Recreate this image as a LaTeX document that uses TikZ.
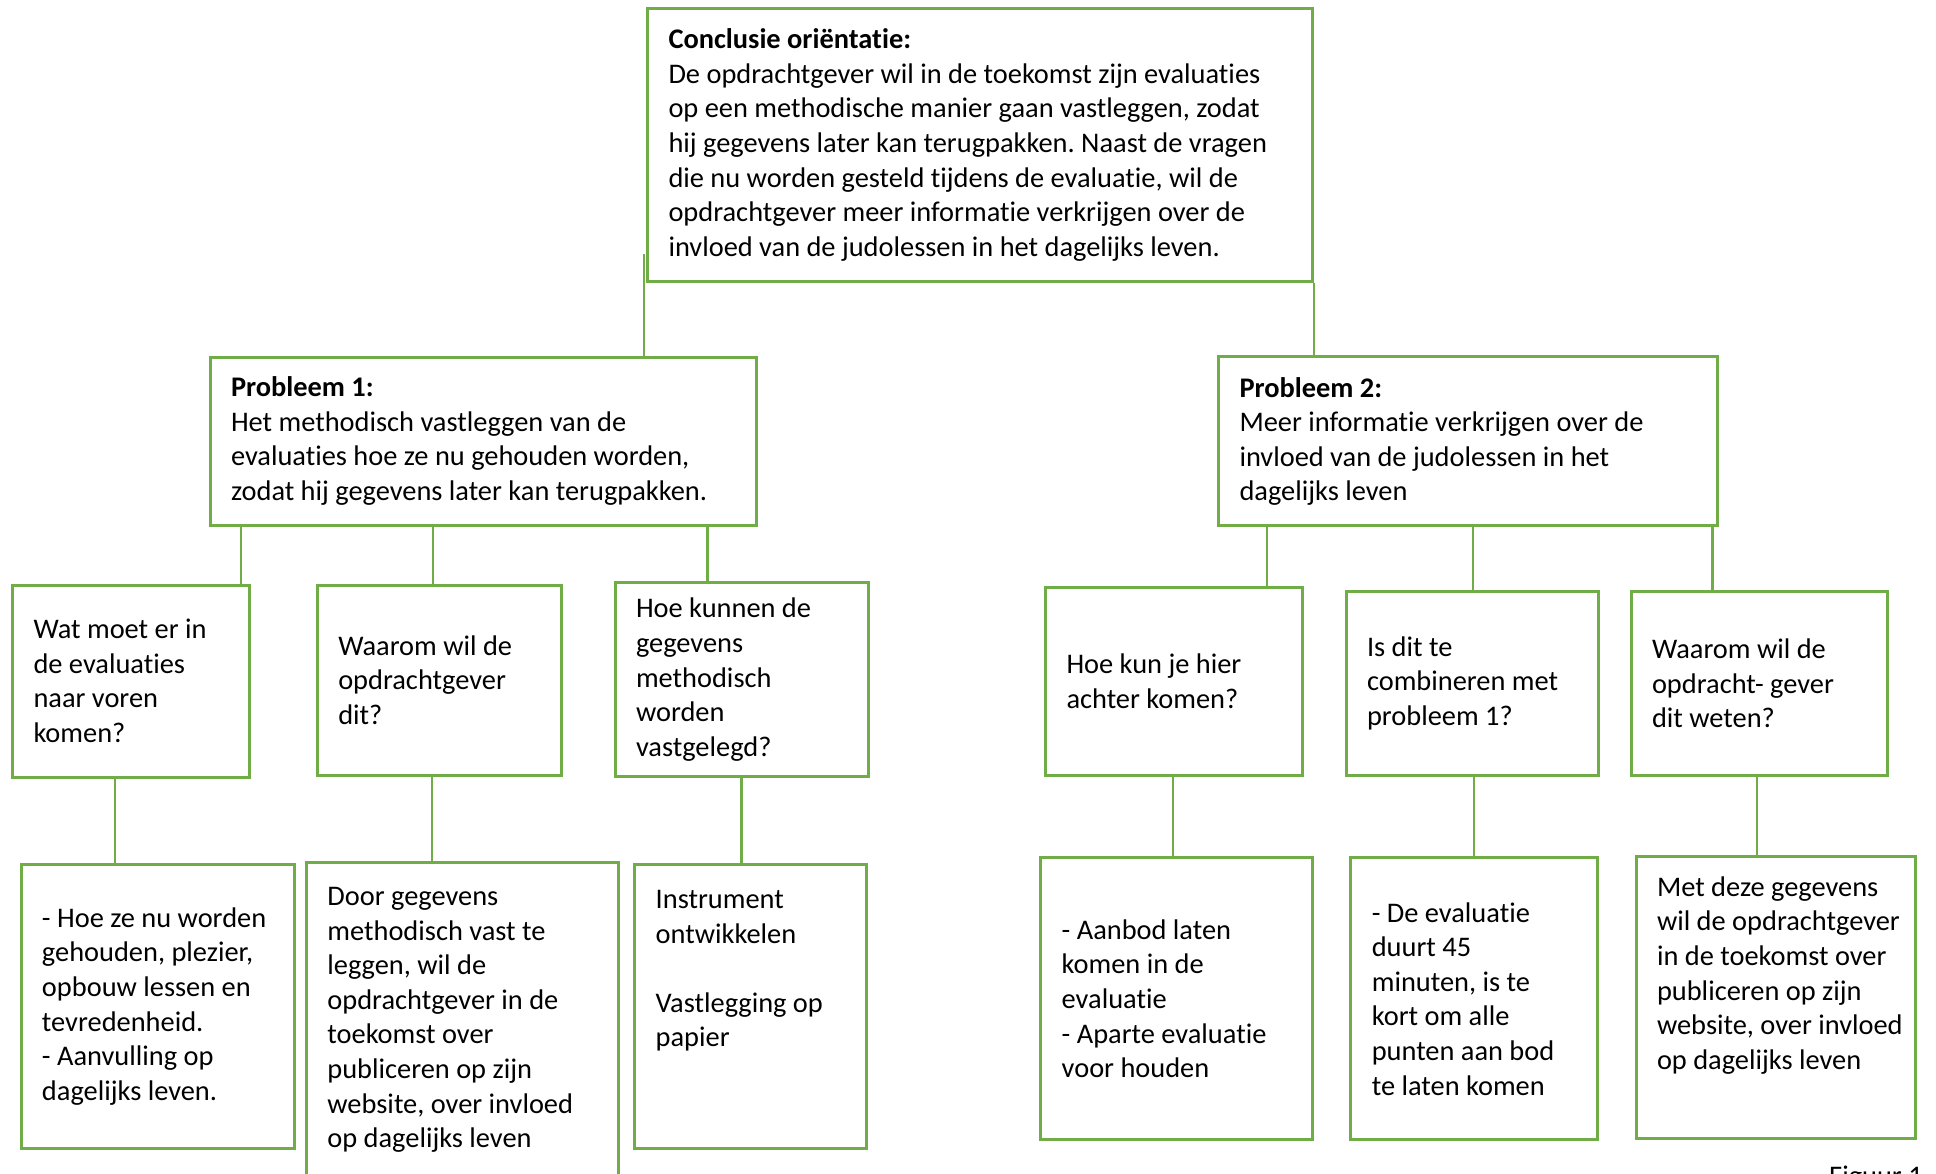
\documentclass[tikz,border=0pt]{standalone}
\usepackage{fontspec}
\setmainfont{Carlito}[Ligatures=NoCommon]
\frenchspacing
\definecolor{boxgreen}{RGB}{112,173,71}
\newcommand{\kfont}{\fontsize{28.4}{34.6}\selectfont}
\tikzset{
  kbox/.style={draw=boxgreen,line width=3pt,inner xsep=4pt,inner ysep=0pt,align=flush left,
    execute at begin node={\leftskip=17pt\relax}},
  klink/.style={draw=boxgreen,line width=2.5pt},
}
\begin{document}
\begin{tikzpicture}[x=1pt,y=-1pt,font=\kfont]
\useasboundingbox (0,0) rectangle (1936,1174);
\node[kbox,minimum width=665pt,minimum height=273pt,text width=657pt] (top) at (980,145)
  {\textbf{Conclusie oriëntatie:}\\De opdrachtgever wil in de toekomst zijn evaluaties\\op een methodische manier gaan vastleggen, zodat\\hij gegevens later kan terugpakken. Naast de vragen\\die nu worden gesteld tijdens de evaluatie, wil de\\opdrachtgever meer informatie verkrijgen over de\\invloed van de judolessen in het dagelijks leven.};
\node[kbox,minimum width=546pt,minimum height=168pt,text width=538pt] (p1) at (483,441)
  {\textbf{Probleem 1:}\\Het methodisch vastleggen van de\\evaluaties hoe ze nu gehouden worden,\\zodat hij gegevens later kan terugpakken.};
\node[kbox,minimum width=499pt,minimum height=169pt,text width=491pt] (p2) at (1468,441.4)
  {\textbf{Probleem 2:}\\Meer informatie verkrijgen over de\\invloed van de judolessen in het\\dagelijks leven};
\foreach \nm/\cx/\cy/\w/\h/\txt in {
  a1/131/681/237/192/{Wat moet er in\\de evaluaties\\naar voren\\komen?},
  a2/439.5/680/244.5/190/{Waarom wil de\\opdrachtgever\\dit?},
  a3/741.5/679.7/253/194/{Hoe kunnen de\\gegevens\\methodisch\\worden\\vastgelegd?},
  b1/1174/681.5/257/188/{Hoe kun je hier\\achter komen?},
  b2/1472/683.4/252/184/{Is dit te\\combineren met\\probleem 1?},
  b3/1759/683.4/256/184/{Waarom wil de\\opdracht- gever\\dit weten?},
  c1/157.5/1006.3/273/284/{- Hoe ze nu worden\\gehouden, plezier,\\opbouw lessen en\\tevredenheid.\\- Aanvulling op\\dagelijks leven.},
  c2/462.4/1020/312/316/{Door gegevens\\methodisch vast te\\leggen, wil de\\opdrachtgever in de\\toekomst over\\publiceren op zijn\\website, over invloed\\op dagelijks leven},
  c3/750.7/1006.3/232/284/{Instrument\\ontwikkelen\\[34.6pt]Vastlegging op\\papier\\[41pt]\mbox{}},
  d1/1176.7/998.8/272/282/{- Aanbod laten\\komen in de\\evaluatie\\- Aparte evaluatie\\voor houden},
  d2/1474.3/998.8/247/282/{- De evaluatie\\duurt 45\\minuten, is te\\kort om alle\\punten aan bod\\te laten komen},
  d3/1775.5/997.7/279/282/{Met deze gegevens\\wil de opdrachtgever\\in de toekomst over\\publiceren op zijn\\website, over invloed\\op dagelijks leven\\[15pt]\mbox{}}}
  \node[kbox,minimum width=\w pt,minimum height=\h pt,text width=\w pt-8pt] (\nm) at (\cx,\cy) {\txt};
\node[anchor=north west,inner sep=0pt] (fig) at (1829,1166) {Figuur 1};
\draw[klink] ([xshift=-2pt,yshift=28.5pt]top.south west) -- ([xshift=-2pt]top.south west |- p1.north);
\draw[klink] (top.south east) -- (top.south east |- p2.north);
\foreach \up/\dn/\dx in {p1/a1/-242,p1/a2/-50,p1/a3/224.5,p2/b1/-201,p2/b2/5,p2/b3/244.5,
  a1/c1/-16,a2/c2/-7.5,a3/c3/0,b1/d1/-1,b2/d2/2,b3/d3/-2}
  \draw[klink] ([xshift=\dx pt]\up.south) -- ([xshift=\dx pt]\up.south |- \dn.north);
\end{tikzpicture}
\end{document}
